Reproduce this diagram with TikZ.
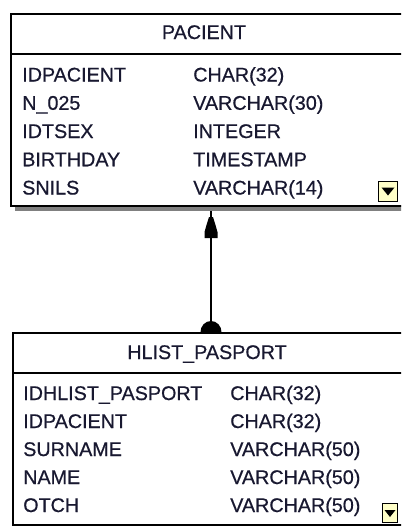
\documentclass[tikz,border=0pt]{standalone}
\usepackage{fontspec}
\setmainfont{Liberation Sans}
\newfontfamily\entfont[BoldFont={Liberation Sans},BoldFeatures={FakeBold=0.6}]{Liberation Sans}
\definecolor{txt}{RGB}{24,24,48}
\definecolor{shadowgray}{RGB}{128,128,128}
\definecolor{iconfill}{RGB}{255,255,200}
\begin{document}
\begin{tikzpicture}[x=0.75pt,y=-0.75pt,
  entity/.style={draw=black,line width=1.125pt,fill=white,rectangle,anchor=north west,inner sep=0pt,minimum width=300pt,minimum height=144pt},
  fld/.style={anchor=base west,inner sep=0pt,text=txt,font=\entfont\fontsize{14.8pt}{16pt}\bfseries},
  hdr/.style={anchor=base,inner sep=0pt,text=txt,font=\entfont\fontsize{14.8pt}{16pt}\bfseries},
  sep/.style={draw=black,line width=1.125pt},
  conn/.style={draw=black,line width=1.5pt},
  icon/.style={draw=black,line width=0.75pt,fill=iconfill}]
\useasboundingbox (0,0) rectangle (401,526);
\begin{scope}
\clip (0,0) rectangle (401,526);
% shadow of top entity
\fill[shadowgray] (15,205) rectangle (420,211);
% top entity
\node[entity] (pacient) at (10,13) {};
\draw[sep] (10,54) -- (420,54);
\node[hdr] (ph) at (204,39) {PACIENT};
\node[fld] (p1a) at (22,81.5) {IDPACIENT};
\node[fld] (p1b) at (193,81.5) {CHAR(32)};
\node[fld] (p2a) at (22,109.75) {N\_025};
\node[fld] (p2b) at (193,109.75) {VARCHAR(30)};
\node[fld] (p3a) at (22,138) {IDTSEX};
\node[fld] (p3b) at (193,138) {INTEGER};
\node[fld] (p4a) at (22,166.25) {BIRTHDAY};
\node[fld] (p4b) at (193,166.25) {TIMESTAMP};
\node[fld] (p5a) at (22,194.5) {SNILS};
\node[fld] (p5b) at (193,194.5) {VARCHAR(14)};
\draw[icon] (378.5,181.5) rectangle (397.5,201.5);
\fill[black] (381.5,187.5) -- (394.5,187.5) -- (388,195.5) -- cycle;
% lower entity
\node[entity] (hlist) at (12,332) {};
\draw[sep] (12,373) -- (420,373);
\node[hdr] (hh) at (207,359) {HLIST\_PASPORT};
\node[fld] (h1a) at (23,400) {IDHLIST\_PASPORT};
\node[fld] (h1b) at (230,400) {CHAR(32)};
\node[fld] (h2a) at (23,428) {IDPACIENT};
\node[fld] (h2b) at (230,428) {CHAR(32)};
\node[fld] (h3a) at (23,456) {SURNAME};
\node[fld] (h3b) at (230,456) {VARCHAR(50)};
\node[fld] (h4a) at (23,484) {NAME};
\node[fld] (h4b) at (230,484) {VARCHAR(50)};
\node[fld] (h5a) at (23,512) {OTCH};
\node[fld] (h5b) at (230,512) {VARCHAR(50)};
\draw[icon] (382.5,503.5) rectangle (397.5,522.5);
\fill[black] (384.5,510) -- (395.5,510) -- (390,517) -- cycle;
% connector
\coordinate (ctop) at (211,211);
\draw[conn] (ctop) -- (ctop |- hlist.north);
\fill[black] (209,217) -- (213,217) -- (215.5,225) -- (217.5,232) -- (217.5,238) -- (204.5,238) -- (204.5,232) -- (206.5,225) -- cycle;
\fill[black] (ctop |- hlist.north) ++(-10.5,0) arc[start angle=180,end angle=0,x radius=7.875pt,y radius=8.25pt] -- cycle;
\end{scope}
\end{tikzpicture}
\end{document}
